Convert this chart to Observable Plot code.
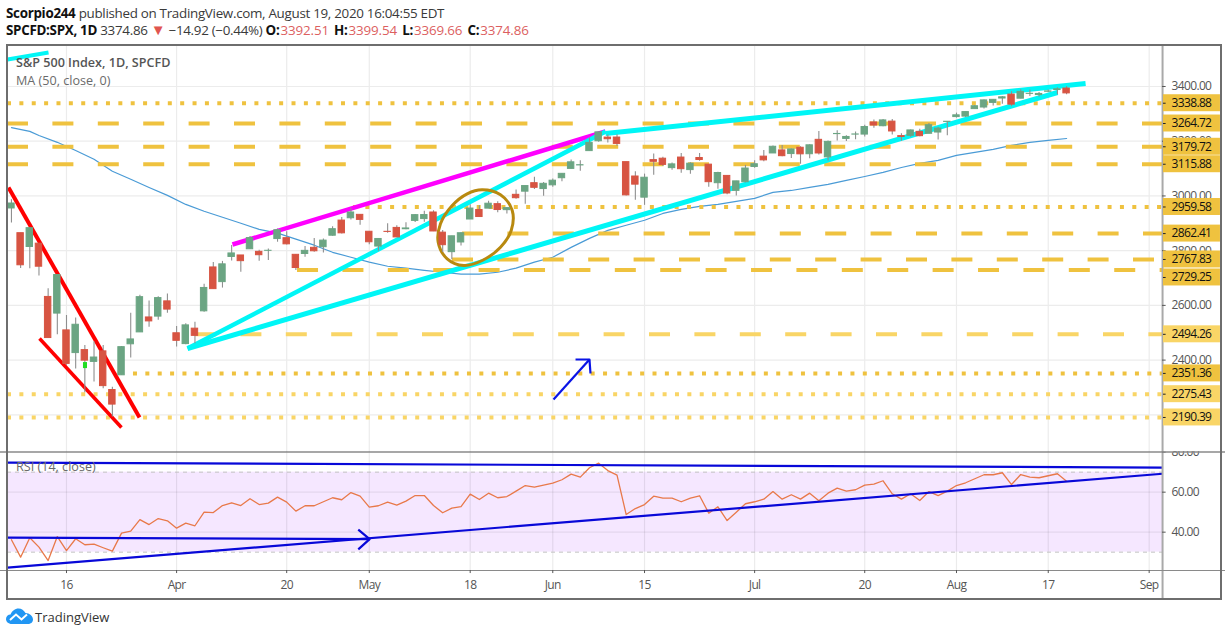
<!DOCTYPE html>
<html><head><meta charset="utf-8">
<script src="https://cdn.jsdelivr.net/npm/d3@7"></script>
<script src="https://cdn.jsdelivr.net/npm/@observablehq/plot@0.6"></script>
<style>
html,body{margin:0;padding:0;background:#fff;width:1225px;height:625px;overflow:hidden;font-family:"Open Sans",sans-serif}
.a{position:absolute;white-space:nowrap}
.hd{font-size:13.4px;color:#3a3a3a;left:6px;line-height:18px;letter-spacing:-.3px}
.hd b{color:#111;font-weight:700}
.hd b.k{margin-left:2px}
.r{color:#dc5f5f;letter-spacing:-.15px;margin-left:1px}
.lg{left:16px;font-size:12.6px;color:#6a6a6a;line-height:16px}
#frame{position:absolute;left:6px;top:44px;width:1212px;height:552px;border:2px solid #6e6e6e;pointer-events:none}
</style></head><body>
<div class="a hd" style="top:4px"><b>Scorpio244</b> published on TradingView.com, August 19, 2020 16:04:55 EDT</div>
<div class="a hd" style="top:21px"><b>SPCFD:SPX, 1D</b>&nbsp;3374.86 <span style="color:#e0554f;font-size:15px;line-height:15px">▼</span> −14.92 (−0.44%) <b>O:</b><span class="r">3392.51</span> <b class="k">H:</b><span class="r">3399.54</span> <b class="k">L:</b><span class="r">3369.66</span> <b class="k">C:</b><span class="r">3374.86</span></div>
<div id="main" class="a" style="left:0;top:44px"></div>
<div id="rsi" class="a" style="left:0;top:451px"></div>
<div id="frame"></div>
<div class="a lg" style="top:55px;font-weight:600;color:#555">S&amp;P 500 Index, 1D, SPCFD</div>
<div class="a lg" style="top:73px">MA (50, close, 0)</div>
<div class="a lg" style="top:459px">RSI (14, close)</div>
<svg class="a" style="left:6px;top:608px" width="28" height="17" viewBox="0 0 28 17"><path d="M6 16C2 16 0 13.500 0 11 0 8.500 2 6.500 4.500 6.500 6 3 9 0.500 12.500 0.500 15.500 0.500 18 2.500 19.500 5 23.500 5 27 8 27 11.500 27 14.500 24.500 16 22 16Z" fill="#2196f3"/><path d="M4 12 10 6.500 15.500 11.500 21 6.500" fill="none" stroke="#fff" stroke-width="2"/></svg>
<div class="a" style="left:35px;top:608px;font-size:13px;color:#333;line-height:19px">TradingView</div>
<script>
// ---- candles, first entry is the session of 6 March 2020, dayIdx 0 = 16 March
const firstDay = -6;
const opens = [2954.2,2863.89,2813.48,2825.6,2630.86,2569.99,2508.59,2425.66,2436.5,2393.48,2431.94,2290.71,2344.44,2457.77,2501.29,2555.87,2558.98,2614.69,2498.08,2458.54,2514.92,2578.28,2738.65,2685,2776.99,2782.46,2805.1,2795.64,2799.34,2842.43,2845.62,2784.81,2787.89,2810.42,2812.64,2854.65,2909.96,2918.46,2930.91,2869.09,2815.01,2868.88,2883.14,2878.26,2908.83,2915.46,2939.5,2865.86,2794.54,2829.95,2913.86,2948.59,2953.63,2969.95,2948.05,3004.08,3015.65,3046.61,3025.17,3038.78,3064.78,3098.9,3111.56,3163.84,3199.92,3213.32,3213.42,3123.53,3071.04,2993.76,3131,3136.13,3101.64,3140.29,3094.42,3138.7,3114.4,3046.6,3073.2,3018.59,3050.2,3105.92,3143.64,3155.29,3166.44,3153.07,3176.17,3152.47,3205.08,3141.11,3225.98,3208.36,3224.21,3224.29,3268.52,3254.86,3271.64,3218.58,3219.84,3234.27,3227.22,3231.76,3270.45,3288.26,3289.92,3317.37,3323.17,3340.05,3356.04,3370.34,3355.46,3372.95,3368.66,3380.86,3387.04,3392.51];
const highs = [2985.93,2863.89,2882.59,2825.6,2660.95,2711.33,2562.98,2553.93,2453.57,2466.97,2453.01,2300.73,2449.71,2571.42,2637.01,2615.91,2631.8,2641.39,2522.75,2533.22,2538.18,2676.85,2756.89,2760.75,2818.57,2782.46,2851.85,2801.88,2806.51,2879.22,2868.98,2785.54,2815.1,2844.9,2842.71,2887.72,2921.15,2954.86,2930.91,2869.09,2844.24,2898.23,2891.11,2901.92,2932.16,2944.25,2945.82,2874.14,2852.8,2865.01,2968.09,2964.21,2980.29,2978.5,2956.76,3021.72,3036.25,3068.67,3049.17,3062.18,3081.07,3130.94,3128.91,3211.72,3233.13,3222.71,3223.27,3123.53,3088.42,3079.76,3153.45,3141.16,3120,3155.53,3120.92,3154.9,3115.01,3086.25,3073.73,3053.89,3111.51,3128.44,3165.81,3182.59,3184.15,3171.8,3179.78,3186.82,3235.32,3200.95,3238.28,3220.39,3233.52,3258.61,3277.29,3279.32,3279.35,3227.26,3241.43,3243.72,3264.74,3250.92,3272.17,3302.73,3306.84,3330.77,3351.03,3352.54,3363.29,3381.01,3387.89,3387.24,3378.51,3387.59,3395.06,3399.54];
const lows = [2901.54,2734.43,2734,2707.22,2478.86,2492.37,2380.94,2367.04,2280.52,2319.78,2295.56,2191.86,2344.44,2407.53,2500.72,2520.02,2545.28,2571.15,2447.49,2455.79,2459.96,2574.57,2657.67,2663.3,2762.36,2721.17,2805.1,2761.54,2764.32,2830.88,2820.43,2727.1,2775.95,2794.26,2791.76,2852.89,2860.71,2912.16,2892.47,2821.61,2797.85,2863.55,2847.65,2876.48,2902.88,2903.44,2869.59,2793.15,2766.64,2816.78,2913.86,2922.35,2953.63,2938.57,2933.59,2988.17,2969.75,3023.4,2998.61,3031.54,3051.64,3098.9,3090.41,3163.84,3196,3193.11,3181.49,2999.49,2984.47,2965.66,3076.06,3108.03,3093.51,3083.11,3079.39,3127.12,3032.13,3024.01,3004.63,2999.74,3047.83,3101.17,3124.52,3155.29,3142.93,3136.53,3115.7,3136.22,3149.43,3127.66,3200.76,3198.59,3205.65,3215.16,3247.77,3253.1,3222.66,3200.05,3214.25,3216.17,3227.22,3204.13,3220.26,3284.53,3286.37,3317.37,3318.14,3328.72,3335.44,3326.44,3355.46,3363.35,3361.64,3379.22,3370.15,3369.66];
const closes = [2972.37,2746.56,2882.23,2741.38,2480.64,2711.02,2386.13,2529.19,2398.1,2409.39,2304.92,2237.4,2447.33,2475.56,2630.07,2541.47,2626.65,2584.59,2470.5,2526.9,2488.65,2663.68,2659.41,2749.98,2789.82,2761.63,2846.06,2783.36,2799.55,2874.56,2823.16,2736.56,2799.31,2797.8,2836.74,2878.48,2863.39,2939.51,2912.43,2830.71,2842.74,2868.44,2848.42,2881.19,2929.8,2930.19,2870.12,2820,2852.5,2863.7,2953.91,2922.94,2971.61,2948.51,2955.45,2991.77,3036.13,3029.73,3044.31,3055.73,3080.82,3122.87,3112.35,3193.93,3232.39,3207.18,3190.14,3002.1,3041.31,3066.59,3124.74,3113.49,3115.34,3097.74,3117.86,3131.29,3050.33,3083.76,3009.05,3053.24,3100.29,3115.86,3130.01,3179.72,3145.32,3169.94,3152.05,3185.04,3155.22,3197.52,3226.56,3215.57,3224.73,3251.84,3257.3,3276.02,3235.66,3215.63,3239.41,3218.44,3258.44,3246.22,3271.12,3294.61,3306.51,3327.77,3349.16,3351.28,3360.47,3333.69,3380.35,3373.43,3372.85,3381.99,3389.78,3374.86];

// ---- 50-day moving average
const maDays = [-6,-4,-3,-1,1,3,5,7,9,11,13,15,17,19,21,23,25,27,29,31,33,35,37,39,41,43,45,47,49,51,53,55,57,59,61,63,65,67,69,71,73,75,77,79,81,83,85,87,89,91,93,95,97,99,101,103,105,107,109];
const maVals = [3250,3236,3221,3196,3166,3134,3090,3061,3031,3002,2969,2944,2922,2900,2878,2864,2842,2820,2794,2776,2758,2743,2736,2728,2721,2714,2714,2721,2736,2758,2776,2812,2845,2874,2893,2911,2936,2951,2962,2969,2980,2991,3013,3020,3031,3042,3057,3071,3086,3104,3119,3130,3148,3159,3170,3185,3196,3203,3210];

// ---- RSI(14), one value per session from firstDay
const rsiVals = [36.2,27.5,37.2,32.5,25.8,37.8,30.8,36.7,33.7,34,32.2,30.5,39.5,40.5,46.3,43.8,46.8,45.7,42,44.5,43.2,50,49.8,53.3,54.7,53.3,56.7,53.8,54.5,57.5,55,50.5,53.2,53.2,55.2,57.2,56.2,59.8,58,52.5,53.2,55,53.5,55.5,58.3,58.3,53.3,49.7,52,52.8,59,56.3,59.5,57.2,57.8,60.5,63.3,62.5,63.5,64.5,66.2,69,67.5,72.2,74.5,70.8,68.5,48.8,51.8,53.8,58,57,57,55.2,57,58.2,49.5,52.7,45.8,50,54.2,55.2,56.5,60.3,56.5,58.7,56.5,59.5,55.7,59.5,62,60.5,61.2,63.5,64,65.7,59.2,56.5,59.2,55.8,60.3,58.3,60.5,63.3,64.7,66.7,68.7,68.7,69.7,63.8,68.8,67.5,67.2,68.2,69.2,65.5];

// ---- axes
const dateTicks = [0,12,24,33,44,53,63,75,87,97,107,118];
const dateLabels = ["16","Apr","20","May","18","Jun","15","Jul","20","Aug","17","Sep"];
const priceTicks = [3400,3200,3000,2800,2600,2400];
const rsiTicks = [80,60,40];

// ---- horizontal levels: value, first session, colour, where the scale label sits
const dottedLevels = [3338.88,2959.58,2351.36,2275.43,2190.39];
const dottedStarts = [-6.43,31.28,7.3,-6.43,-6.43];
const dottedColors = ["#efc23f","#efc23f","#efc23f","#f9d566","#f9d566"];
const dashedLevels = [3264.72,3179.72,3115.88,2862.41,2767.83,2729.25,2494.26];
const dashedStarts = [-6.43,-6.43,-6.43,43.16,42.07,25.18,14.06];
const dashedColors = ["#efc23f","#efc23f","#efc23f","#efc23f","#efc23f","#efc23f","#f9d566"];
const dashedLabelAt = [3264.72,3179.72,3115.88,2862.41,2767.83,2702,2494.26];

// ---- hand-drawn annotations, [session, price]
const cyanCorner = [[-6.43,3498.7],[-1.96,3524.3]];
const redLong = [[-6.32,3030.8],[7.96,2190.2]];
const redShort = [[-2.94,2478.9],[5.99,2153.6]];
const magentaLine = [[18.09,2822.5],[58.75,3235.5]];
const cyanSteep = [[13.19,2442.4],[58.75,3235.5]];
const cyanLow = [[13.19,2442.4],[108.01,3378.1]];
const cyanTop = [[58.75,3228.2],[111.07,3411]];
const goldOval = [[47.30,3004.2],[48.58,2946.8],[48.47,2873.7],[47.30,2812.6],[45.31,2764],[43.30,2745.8],[41.49,2770.3],[40.51,2830.9],[40.76,2898.2],[42.04,2965.1],[43.67,3007.8],[45.31,3022.4]];
const blueArrow = [[53.08,2256],[57,2402.2]];
const blueHead = [[55.48,2402.2],[57,2402.2],[57.11,2351]];
const greenMark = [[1.85,2369,2.29,2391]];

// ---- RSI annotations, [session, rsi]
const rsiTop = [[-6.43,74.8],[119.46,72.3]];
const rsiRise = [[-6.43,22.3],[119.46,69.2]];
const rsiFlat = [[-6.43,37.3],[33.04,36.5]];
const rsiHead = [[31.8,41.3],[33.04,36.5],[31.8,31.4]];

// ---- scale set-up
const xDomain = [-7.193,126.32];
const paneRight = 119.46, boxRight = 125.77, textX = 120.44, tickEnd = 119.85, paneLeft = -6.43;
const candles = opens.map((o,i)=>({d:firstDay+i,o,h:highs[i],l:lows[i],c:closes[i]}));
const ma = maDays.map((d,i)=>({d,v:maVals[i]}));
const rsi = rsiVals.map((v,i)=>({d:firstDay+i,v}));
const dotted = dottedLevels.map((v,i)=>({v,s:dottedStarts[i],c:dottedColors[i],at:v}));
const dashed = dashedLevels.map((v,i)=>({v,s:dashedStarts[i],c:dashedColors[i],at:dashedLabelAt[i]}));
const levels = dotted.concat(dashed);
const GRID="#ececec", AXIS="#555", UP="#6ba583", DOWN="#d75442", CYAN="#00f6f6";
const seg=(pts,stroke,w,extra={})=>Plot.line(pts,{x:p=>p[0],y:p=>p[1],stroke,strokeWidth:w,strokeLinecap:"butt",...extra});
const font={fontFamily:"Open Sans, sans-serif",background:"transparent",letterSpacing:"-0.65px"};

const mainChart = Plot.plot({
  width:1225,height:408,margin:0,style:font,
  x:{domain:xDomain,axis:null},y:{domain:[2062.3,3553.5],axis:null},
  marks:[
    Plot.ruleX(dateTicks,{stroke:GRID,strokeWidth:1.2}),
    Plot.ruleY(priceTicks.concat([2200]),{x1:paneLeft,x2:paneRight,stroke:GRID,strokeWidth:1.2}),
    Plot.line(ma,{x:"d",y:"v",stroke:"#4a9bd6",strokeWidth:1.2}),
    Plot.ruleY(dotted,{y:"v",x1:"s",x2:paneRight,stroke:"c",strokeWidth:4,strokeDasharray:"4,8.37"}),
    Plot.ruleY(dashed,{y:"v",x1:"s",x2:paneRight,stroke:"c",strokeWidth:4,strokeDasharray:"21,24.4"}),
    seg(cyanCorner,CYAN,4),
    seg(redLong,"#ff0000",4),seg(redShort,"#ff0000",3.5),
    seg(magentaLine,"#ff00ff",4.5),
    seg(cyanSteep,CYAN,4.5),seg(cyanLow,CYAN,5),seg(cyanTop,CYAN,5),
    seg(goldOval,"#b8890f",3,{curve:"catmull-rom-closed"}),
    seg(blueArrow,"#0a14e6",2.2),seg(blueHead,"#0a14e6",2.2),
    Plot.ruleX(candles,{x:"d",y1:"l",y2:"h",stroke:"#8f8f8f",strokeWidth:1.1}),
    Plot.rect(candles,{x1:d=>d.d-.35,x2:d=>d.d+.35,y1:"o",y2:"c",fill:d=>d.c>=d.o?UP:DOWN,stroke:d=>d.c>=d.o?UP:DOWN,strokeWidth:1}),
    Plot.rect(greenMark,{x1:p=>p[0],y1:p=>p[1],x2:p=>p[2],y2:p=>p[3],fill:"#22dd22"}),
    // right price scale
    Plot.ruleX([paneRight],{stroke:"#a9a9a9",strokeWidth:2}),
    Plot.ruleY(priceTicks,{x1:paneRight,x2:tickEnd,stroke:AXIS}),
    Plot.text(priceTicks,{x:textX,y:d=>d,text:d=>d.toFixed(2),textAnchor:"start",fill:AXIS,fontSize:12}),
    Plot.rect(levels,{x1:paneRight+.1,x2:boxRight,y1:d=>d.at-31,y2:d=>d.at+31,fill:"c"}),
    Plot.ruleY(levels,{y:"at",x1:paneRight+.1,x2:tickEnd,stroke:"#222"}),
    Plot.text(levels,{x:textX,y:"at",text:d=>d.v.toFixed(2),textAnchor:"start",fill:"#111",fontSize:12})
  ]
});
document.getElementById("main").appendChild(mainChart);

const rsiChart = Plot.plot({
  width:1225,height:147,margin:0,style:font,
  x:{domain:xDomain,axis:null},y:{domain:[6.83,80.33],axis:null},
  marks:[
    Plot.rect([[30,70]],{x1:paneLeft,x2:paneRight,y1:p=>p[0],y2:p=>p[1],fill:"#9915ff",fillOpacity:.1}),
    Plot.ruleX(dateTicks,{y1:20.83,y2:80.33,stroke:"#000",strokeOpacity:.08,strokeWidth:1.2}),
    Plot.ruleY([60,40],{x1:paneLeft,x2:paneRight,stroke:"#000",strokeOpacity:.07,strokeWidth:1.2}),
    Plot.ruleY([30,70],{x1:paneLeft,x2:paneRight,stroke:"#c2c2c2",strokeDasharray:"4,4"}),
    Plot.line(rsi,{x:"d",y:"v",stroke:"#e8794a",strokeWidth:1.3}),
    seg(rsiTop,"#0808d8",2.2),seg(rsiRise,"#0808d8",2.2),seg(rsiFlat,"#0808d8",2.2),seg(rsiHead,"#0808d8",2.2),
    Plot.ruleX([paneRight],{stroke:"#a9a9a9",strokeWidth:2}),
    Plot.ruleY(rsiTicks,{x1:paneRight,x2:tickEnd,stroke:AXIS}),
    Plot.text(rsiTicks,{x:textX,y:d=>d,text:d=>d.toFixed(2),textAnchor:"start",fill:AXIS,fontSize:12}),
    Plot.ruleY([80.1],{stroke:"#8a8a8a",strokeWidth:1.4}),
    Plot.ruleY([20.83],{stroke:"#8a8a8a",strokeWidth:1.2}),
    Plot.ruleX(dateTicks,{y1:20.83,y2:19.3,stroke:AXIS}),
    Plot.text(dateTicks,{x:d=>d,y:13.3,text:(d,i)=>dateLabels[i],fill:AXIS,fontSize:12})
  ]
});
document.getElementById("rsi").appendChild(rsiChart);
</script>
</body></html>
